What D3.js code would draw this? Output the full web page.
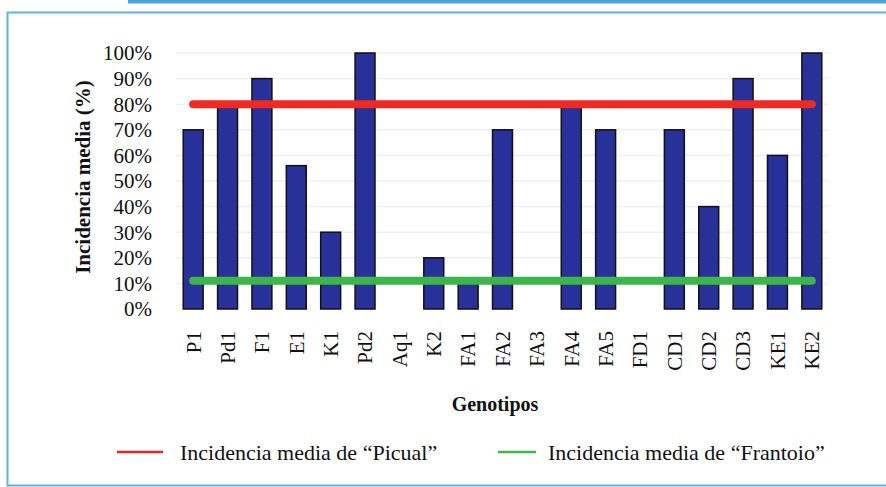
<!DOCTYPE html>
<html>
<head>
<meta charset="utf-8">
<script src="https://cdn.jsdelivr.net/npm/d3@7"></script>
<style>
  body { margin: 0; background: #fff; }
  svg text { font-family: "Liberation Serif", "Times New Roman", serif; fill: #111; }
</style>
</head>
<body>
<div id="chart"></div>
<script>
// de data van de grafiek
const genotipos = ["P1", "Pd1", "F1", "E1", "K1", "Pd2", "Aq1", "K2", "FA1", "FA2", "FA3", "FA4", "FA5", "FD1", "CD1", "CD2", "CD3", "KE1", "KE2"]
const incidencia = [70, 80, 90, 56, 30, 100, 0, 20, 10, 70, 0, 80, 70, 0, 70, 40, 90, 60, 100]
const yTicks = [0, 10, 20, 30, 40, 50, 60, 70, 80, 90, 100]
const mediaPicual = 80
const mediaFrantoio = 11

const width = 886
const height = 487
const margin = {top: 53, right: 57, bottom: 178, left: 176}
const serif = "'Liberation Serif', 'Times New Roman', serif"

var svg = d3.select("#chart")
  .append("svg")
    .attr("width", width)
    .attr("height", height)

// het blauwe kader
svg.append("rect")
    .attr("x", 128).attr("y", 0)
    .attr("width", width - 128).attr("height", 3.5)
    .attr("fill", "#4aa3d6")
svg.append("path")
    .attr("d", "M" + (width + 2) + ",12.5 H7.5 V485.5 H" + (width + 2))
    .attr("fill", "none")
    .attr("stroke", "#62b1df")
    .attr("stroke-width", 2)

var xScale = d3.scaleBand()
    .domain(genotipos)
    .range([margin.left, width - margin.right])
    .paddingInner(0.42)
    .paddingOuter(0.21)

var yScale = d3.scaleLinear()
    .domain([0, 100])
    .range([height - margin.bottom, margin.top])

// gridlijnen
svg.append("g")
  .selectAll("line")
    .data(yTicks.slice(1))
    .enter()
    .append("line")
    .attr("x1", margin.left)
    .attr("x2", width - margin.right)
    .attr("y1", function(d) { return yScale(d); })
    .attr("y2", function(d) { return yScale(d); })
    .attr("stroke", "#f0f0f0")
    .attr("stroke-width", 1.5)

// y-as
var yAxis = svg.append("g")
    .attr("transform", "translate(" + (margin.left - 21) + ",0)")
    .attr("font-family", serif)
    .call(d3.axisLeft(yScale).tickValues(yTicks).tickSize(0).tickFormat(function(d) { return d + "%"; }))
yAxis.select(".domain").remove()
yAxis.selectAll("text")
    .attr("font-family", serif)
    .attr("font-size", "21px")
    .attr("dy", "0.33em")

// x-as
var xAxis = svg.append("g")
    .attr("transform", "translate(0," + (height - margin.bottom) + ")")
    .attr("font-family", serif)
    .call(d3.axisBottom(xScale).tickSize(0))
xAxis.select(".domain").remove()
xAxis.selectAll("text")
    .attr("font-family", serif)
    .attr("font-size", "21px")
    .attr("text-anchor", "end")
    .attr("transform", "rotate(-90)")
    .attr("x", -22)
    .attr("y", 0)
    .attr("dy", "0.35em")

// de staven
svg.append("g")
  .selectAll("rect")
    .data(genotipos)
    .enter()
    .append("rect")
    .attr("x", function(d) { return xScale(d); })
    .attr("y", function(d, i) { return yScale(incidencia[i]); })
    .attr("width", xScale.bandwidth())
    .attr("height", function(d, i) { return yScale(0) - yScale(incidencia[i]); })
    .attr("fill", "#28309a")
    .attr("stroke", "#111")
    .attr("stroke-width", 1.5)

// gemiddelde lijnen
var x0 = xScale(genotipos[0]) + xScale.bandwidth() / 2
var x1 = xScale(genotipos[genotipos.length - 1]) + xScale.bandwidth() / 2
svg.append("line")
    .attr("x1", x0).attr("x2", x1)
    .attr("y1", yScale(mediaPicual)).attr("y2", yScale(mediaPicual))
    .attr("stroke", "#ee2b22").attr("stroke-width", 8).attr("stroke-linecap", "round")
svg.append("line")
    .attr("x1", x0).attr("x2", x1)
    .attr("y1", yScale(mediaFrantoio)).attr("y2", yScale(mediaFrantoio))
    .attr("stroke", "#3cb54a").attr("stroke-width", 8).attr("stroke-linecap", "round")

// as titels
svg.append("text")
    .attr("transform", "translate(83,177) rotate(-90)")
    .attr("text-anchor", "middle")
    .attr("dy", "0.35em")
    .attr("font-size", "21px")
    .attr("font-weight", "bold")
    .text("Incidencia media (%)")

svg.append("text")
    .attr("x", 495)
    .attr("y", 411)
    .attr("text-anchor", "middle")
    .attr("font-size", "20px")
    .attr("font-weight", "bold")
    .text("Genotipos")

// legenda
var legend = [
  {label: "Incidencia media de \u201cPicual\u201d", color: "#e0261e", x: 117, len: 46, tx: 180},
  {label: "Incidencia media de \u201cFrantoio\u201d", color: "#3cb54a", x: 498, len: 38, tx: 548}
]
var items = svg.append("g").selectAll("g")
    .data(legend)
    .enter()
    .append("g")
items.append("line")
    .attr("x1", function(d) { return d.x; })
    .attr("x2", function(d) { return d.x + d.len; })
    .attr("y1", 452).attr("y2", 452)
    .attr("stroke", function(d) { return d.color; })
    .attr("stroke-width", 2.5)
items.append("text")
    .attr("x", function(d) { return d.tx; })
    .attr("y", 452)
    .attr("dy", "0.35em")
    .attr("font-size", "22px")
    .text(function(d) { return d.label; })
</script>
</body>
</html>
